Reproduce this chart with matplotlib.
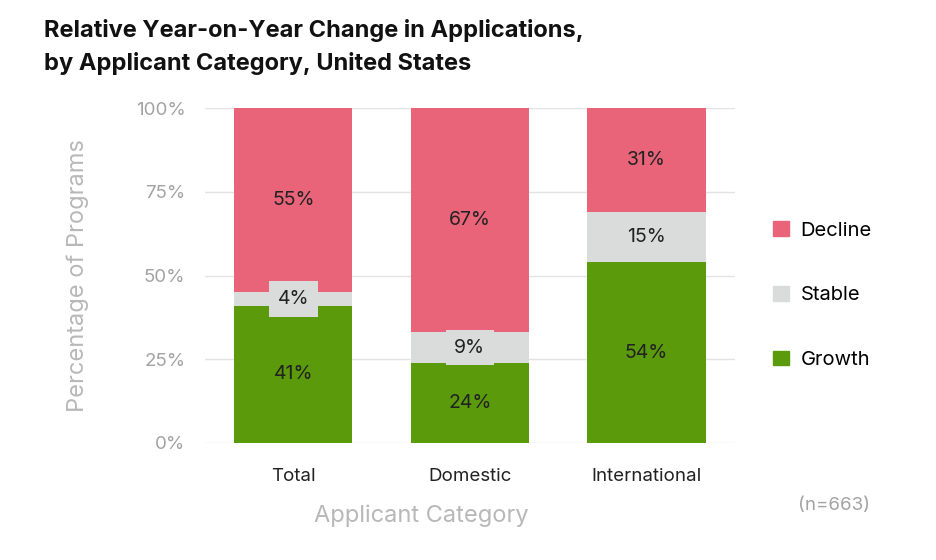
import matplotlib
matplotlib.use("Agg")
import matplotlib.pyplot as plt
import numpy as np
from matplotlib.patches import Patch

# ── Data ────────────────────────────────────────────────────────────────────
categories = ["Total", "Domestic", "International"]
growth = [41, 24, 54]
stable = [4, 9, 15]
decline = [55, 67, 31]
yticks = [0, 25, 50, 75, 100]

# ── Style ───────────────────────────────────────────────────────────────────
C_DECLINE = "#EA6479"
C_STABLE = "#DADCDC"
C_GROWTH = "#5B9A0A"
C_AXIS_TXT = "#A3A3A3"
C_LABEL = "#B8B8B8"
plt.rcParams["font.family"] = ["Inter", "DejaVu Sans"]

fig = plt.figure(figsize=(9.36, 5.6), dpi=100)
ax = fig.add_axes([0.219, 0.209, 0.566, 0.598])

x = np.arange(len(categories))
w = 0.67
g = np.array(growth)
s = np.array(stable)
d = np.array(decline)
ax.bar(x, g, w, color=C_GROWTH, zorder=2)
ax.bar(x, s, w, bottom=g, color=C_STABLE, zorder=2)
ax.bar(x, d, w, bottom=g + s, color=C_DECLINE, zorder=2)

# segment labels
for i in range(len(categories)):
    for bottom, val, small in [(0, g[i], False), (g[i], s[i], s[i] < 10), (g[i] + s[i], d[i], False)]:
        kw = {}
        if small:
            kw["bbox"] = dict(boxstyle="square,pad=0.45", fc=C_STABLE, ec="none")
        ax.text(x[i], bottom + val / 2, f"{val}%", ha="center", va="center",
                fontsize=14, color="#222222", zorder=3, **kw)

ax.set_xlim(-0.5, 2.5)
ax.set_ylim(0, 100)
ax.set_yticks(yticks)
ax.set_yticklabels([f"{v}%" for v in yticks], color=C_AXIS_TXT, fontsize=13.5)
ax.set_xticks(x)
ax.set_xticklabels(categories, fontsize=13.5, color="#222222")
ax.tick_params(length=0)
ax.tick_params(axis="y", pad=14)
ax.tick_params(axis="x", pad=18)
ax.grid(axis="y", color="#E3E3E3", linewidth=1, zorder=0)
for sp in ax.spines.values():
    sp.set_visible(False)

ax.set_ylabel("Percentage of Programs", fontsize=17, color=C_LABEL)
ax.yaxis.set_label_coords(-0.24, 0.5)
ax.set_xlabel("Applicant Category", fontsize=17, color=C_LABEL)
ax.xaxis.set_label_coords(0.408, -0.218)
ax.xaxis.label.set_va("center")
ax.yaxis.label.set_va("center")

# title
fig.text(0.047, 0.945, "Relative Year-on-Year Change in Applications,", fontsize=17,
         fontweight="bold", color="#111111", va="center")
fig.text(0.047, 0.886, "by Applicant Category, United States", fontsize=17,
         fontweight="bold", color="#111111", va="center")

# legend
handles = [Patch(color=C_DECLINE, label="Decline"),
           Patch(color=C_STABLE, label="Stable"),
           Patch(color=C_GROWTH, label="Growth")]
fig.legend(handles=handles, loc="center left", bbox_to_anchor=(0.807, 0.473),
           frameon=False, fontsize=14.5, handlelength=0.75, handleheight=0.75,
           handletextpad=0.6, labelspacing=2.3)

fig.text(0.93, 0.097, "(n=663)", fontsize=13.5, color=C_AXIS_TXT, ha="right", va="center")

fig.savefig("out.png", dpi=100, facecolor="white")
